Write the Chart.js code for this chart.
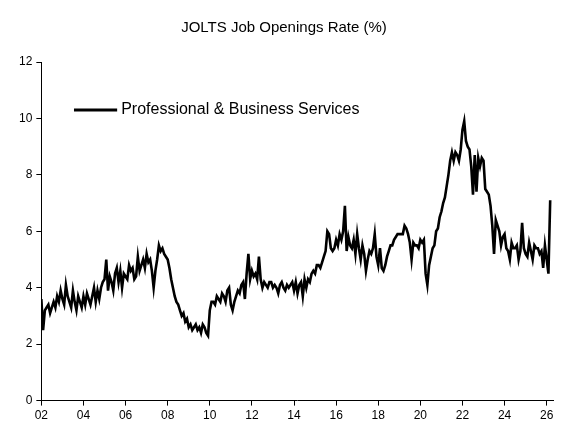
<!DOCTYPE html>
<html><head><meta charset="utf-8">
<script src="https://cdn.jsdelivr.net/npm/chart.js@4"></script>
<style>html,body{margin:0;padding:0;background:#fff}#w{width:575px;height:438px}</style>
</head><body><div id="w"><canvas id="c"></canvas></div>
<script>
const seriesName = "Professional & Business Services";
const startYear = 2002;
const rate = [
3.6,2.5,3.2,3.3,3.4,3.1,3.3,3.5,3.3,3.7,3.5,3.9,
3.6,3.4,4.1,3.7,3.5,3.3,3.9,3.5,3.2,3.7,3.5,3.3,
3.7,3.4,3.8,3.6,3.4,3.7,4.0,3.5,3.9,3.6,4.0,4.2,
4.3,5.0,3.9,4.4,4.2,3.9,4.5,4.7,4.2,4.6,4.0,4.5,
4.4,4.3,4.8,4.6,4.7,4.3,4.4,5.1,4.6,4.8,5.0,4.7,
5.2,4.9,5.0,4.6,4.0,4.6,5.0,5.5,5.3,5.4,5.2,5.1,
5.0,4.7,4.3,4.0,3.7,3.5,3.4,3.2,3.0,3.1,2.8,2.9,
2.6,2.7,2.5,2.6,2.7,2.5,2.6,2.4,2.7,2.6,2.4,2.3,
3.2,3.5,3.5,3.4,3.7,3.6,3.5,3.8,3.7,3.5,3.9,4.0,
3.4,3.2,3.5,3.7,3.9,3.8,4.1,4.2,3.6,4.5,5.2,4.3,
4.6,4.4,4.5,4.3,5.1,4.3,4.0,4.2,4.1,4.0,4.2,4.2,
4.0,4.1,4.0,3.8,4.1,4.2,4.0,3.9,4.1,4.0,4.1,4.2,
3.9,4.2,3.8,4.1,4.2,3.7,4.3,4.0,4.3,4.2,4.5,4.6,
4.5,4.8,4.8,4.7,4.9,5.1,5.3,6.0,5.9,5.4,5.3,5.4,
5.7,5.5,5.9,5.7,6.0,6.9,5.3,5.8,5.5,5.4,5.7,5.2,
5.9,5.4,5.0,5.5,5.2,4.6,5.0,5.3,5.2,5.4,5.9,5.1,
4.8,5.4,4.7,4.6,4.8,5.1,5.3,5.5,5.5,5.7,5.8,5.9,
5.9,5.9,5.9,6.2,6.1,5.9,5.6,5.0,5.6,5.5,5.5,5.4,
5.7,5.6,5.7,4.5,4.1,4.8,5.1,5.4,5.5,6.0,6.1,6.5,
6.7,7.0,7.2,7.6,8.0,8.5,8.8,8.5,8.8,8.7,8.5,8.9,
9.6,9.9,9.2,9.0,8.9,8.3,7.3,8.7,7.4,8.6,8.3,8.6,
8.5,7.5,7.4,7.3,6.9,6.2,5.2,6.4,6.2,6.0,5.5,5.8,
5.9,5.4,5.3,5.0,5.6,5.4,5.4,5.5,5.0,5.3,6.3,5.4,
5.2,5.1,5.6,5.3,5.0,5.5,5.4,5.4,5.2,5.3,4.7,5.5,
5.0,4.5,7.1];
const pts = rate.map((v,i)=>({x:startYear+i/12,y:v}));
const F = "'Liberation Sans', Arial, sans-serif";
const legendPlugin = {id:'lg',afterDraw(ch){
  const c=ch.ctx, xs=ch.scales.x, ys=ch.scales.y;
  const x0=xs.getPixelForValue(2003.55), x1=xs.getPixelForValue(2005.6), y=ys.getPixelForValue(10.3);
  c.save();c.strokeStyle='#000';c.lineWidth=3;c.beginPath();c.moveTo(x0,y);c.lineTo(x1,y);c.stroke();
  c.fillStyle='#000';c.font='16px '+F;c.textBaseline='middle';c.fillText(seriesName,x1+4,y);c.restore();
}};
new Chart(document.getElementById('c'),{
  type:'line',
  data:{datasets:[{data:pts,borderColor:'#000',borderWidth:2.6,pointRadius:0,tension:0}]},
  options:{responsive:true,maintainAspectRatio:false,animation:false,
    layout:{padding:{left:15,right:22,top:6,bottom:12}},
    plugins:{legend:{display:false},tooltip:{enabled:false},
      title:{display:true,text:'JOLTS Job Openings Rate (%)',color:'#000',font:{family:F,size:15,weight:'normal'},padding:{top:13,bottom:25}}},
    scales:{
      x:{type:'linear',min:2002,max:2026.3,
        ticks:{stepSize:2,autoSkip:false,color:'#000',font:{family:F,size:12},maxRotation:0,
          callback:v=>(v%2===0)?String(v%100).padStart(2,'0'):''},
        afterBuildTicks:a=>{a.ticks=[];for(let y=2002;y<=2026;y+=2)a.ticks.push({value:y});},
        grid:{display:true,drawOnChartArea:false,drawTicks:true,tickLength:5,color:'#000'},
        border:{color:'#000',width:1}},
      y:{min:0,max:12,ticks:{stepSize:2,color:'#000',font:{family:F,size:12},padding:4},
        grid:{display:true,drawOnChartArea:false,tickLength:5,color:'#000'},
        border:{color:'#000',width:1}}
    }},
  plugins:[legendPlugin]
});
</script></body></html>
